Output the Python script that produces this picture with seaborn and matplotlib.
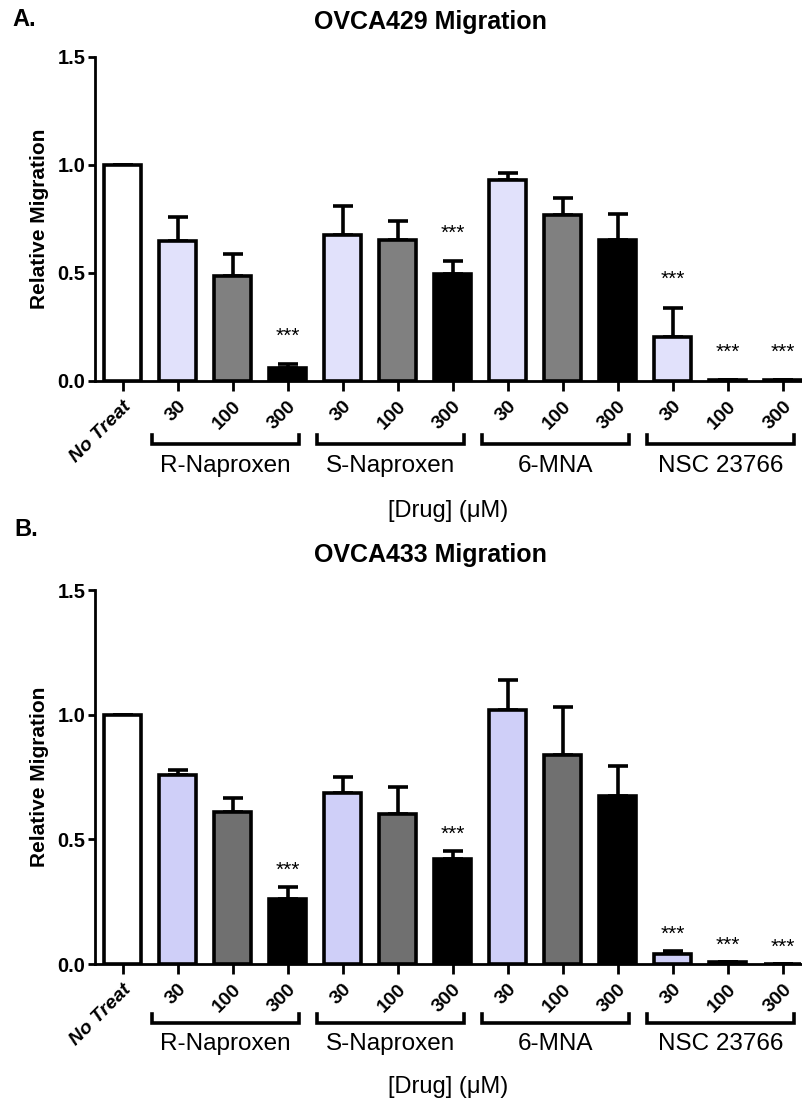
import numpy as np
import pandas as pd
import seaborn as sns
import matplotlib.pyplot as plt
from matplotlib.transforms import blended_transform_factory

# Dữ liệu
categories = ['No Treat', '30', '100', '300', '30 ', '100 ', '300 ',
              '30  ', '100  ', '300  ', '30   ', '100   ', '300   ']
tick_labels = ['No Treat', '30', '100', '300', '30', '100', '300',
               '30', '100', '300', '30', '100', '300']
groups = ['R-Naproxen', 'S-Naproxen', '6-MNA', 'NSC 23766']

ovca429_mean = [1.0, 0.65, 0.485, 0.06, 0.675, 0.655, 0.495, 0.93, 0.77, 0.655, 0.205, 0.003, 0.004]
ovca429_err = [0.0, 0.11, 0.105, 0.02, 0.135, 0.085, 0.06, 0.035, 0.075, 0.12, 0.135, 0.0, 0.0]
ovca429_sig = [False, False, False, True, False, False, True, False, False, False, True, True, True]

ovca433_mean = [1.0, 0.76, 0.61, 0.26, 0.685, 0.60, 0.42, 1.02, 0.84, 0.675, 0.04, 0.007, 0.0]
ovca433_err = [0.0, 0.02, 0.055, 0.05, 0.065, 0.11, 0.035, 0.12, 0.19, 0.12, 0.012, 0.003, 0.0]
ovca433_sig = [False, False, False, True, False, False, True, False, False, False, True, True, True]

plt.rcParams['font.family'] = ['Liberation Sans', 'DejaVu Sans']

fig = plt.figure(figsize=(8.02, 11.01), dpi=100)
W, H = 802, 1101


def panel(rect, title, mean, err, sig, light, gray, star_px, brk_px, lab_px, drug_px):
    ax = fig.add_axes(rect)
    df = pd.DataFrame({'cond': categories, 'val': mean})
    cols = ['white'] + [light, gray, 'black'] * 4
    sns.barplot(data=df, x='cond', y='val', hue='cond', palette=cols, legend=False,
                width=0.68, edgecolor='black', linewidth=2.6, ax=ax, zorder=3)
    x = np.arange(len(categories))
    ax.errorbar(x, mean, yerr=[np.zeros(len(err)), err], fmt='none', ecolor='black',
                elinewidth=2.6, capsize=7, capthick=2.6, zorder=2)
    for i, s in enumerate(sig):
        if s:
            ax.annotate('***', (i, mean[i] + err[i]), xytext=(0, star_px), textcoords='offset points',
                        ha='center', va='center', fontsize=15)
    ax.set_ylim(0, 1.5)
    ax.set_yticks([0, 0.5, 1.0, 1.5])
    ax.set_yticklabels(['0.0', '0.5', '1.0', '1.5'], fontsize=14.5, fontweight='bold')
    ax.set_xlim(-0.5, 12.35)
    ax.set_xticks(x)
    ax.set_xticklabels(tick_labels, rotation=45, ha='right', rotation_mode='anchor',
                       fontsize=14, fontweight='bold')
    ax.get_xticklabels()[0].set_fontstyle('italic')
    ax.tick_params(axis='x', length=7, width=2, pad=5)
    ax.tick_params(axis='y', length=5, width=2, pad=2)
    ax.set_xlabel('')
    ax.set_ylabel('Relative Migration', fontsize=15, fontweight='bold', labelpad=6)
    ax.set_title(title, fontsize=18, fontweight='bold', pad=20, x=0.475)
    for side in ['top', 'right']:
        ax.spines[side].set_visible(False)
    for side in ['left', 'bottom']:
        ax.spines[side].set_linewidth(2)

    # ngoặc nhóm
    ax_h = rect[3] * H
    tr = blended_transform_factory(ax.transData, ax.transAxes)
    by = -brk_px / ax_h
    hook = 9 / ax_h
    for g, name in enumerate(groups):
        x0 = 1 + 3 * g - 0.46
        x1 = 3 + 3 * g + 0.2
        ax.plot([x0, x0, x1, x1], [by + hook, by, by, by + hook], color='black', lw=2.6,
                transform=tr, clip_on=False, solid_joinstyle='miter')
        ax.text((x0 + x1) / 2, -lab_px / ax_h, name, transform=tr, ha='center', va='center',
                fontsize=17.5)
    ax.text(0.5, -drug_px / ax_h, '[Drug] (\u03bcM)', transform=ax.transAxes,
            ha='center', va='center', fontsize=17)
    return ax


panel([95 / W, 1 - 381 / H, 707 / W, 324 / H], 'OVCA429 Migration', ovca429_mean, ovca429_err,
      ovca429_sig, '#DDDDFF', '#808080', 20, 63, 85, 130)
panel([95 / W, 1 - 964 / H, 707 / W, 374 / H], 'OVCA433 Migration', ovca433_mean, ovca433_err,
      ovca433_sig, '#C8C8FF', '#707070', 12, 59, 80, 123)

fig.text(12 / W, 1 - 19 / H, 'A.', fontsize=17, fontweight='bold', va='center')
fig.text(14 / W, 1 - 529 / H, 'B.', fontsize=17, fontweight='bold', va='center')

plt.savefig('out.png', dpi=100)
